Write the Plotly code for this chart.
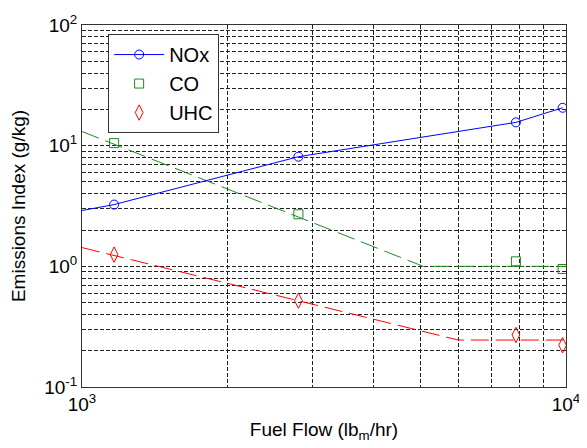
import plotly.graph_objects as go

# Data points (fuel flow lbm/hr, emissions index g/kg)
flow = [1165, 2800, 7880, 9840]
nox = [3.25, 8.1, 15.6, 20.6]
co = [10.5, 2.7, 1.1, 0.95]
uhc = [1.25, 0.52, 0.27, 0.222]

# Fitted curves
nox_ext_x = [1000, 1165]
nox_ext_y = [2.9, 3.25]
co_fit_x = [1000, 5070, 10000]
co_fit_y = [13.1, 1.0, 1.0]
uhc_fit_x = [1000, 5990, 10000]
uhc_fit_y = [1.43, 0.245, 0.245]

x_major = [1000, 10000]
x_major_text = ["10<sup>3</sup>", "10<sup>4</sup>"]
y_major = [0.1, 1, 10, 100]
y_major_text = ["10<sup>-1</sup>", "10<sup>0</sup>", "10<sup>1</sup>", "10<sup>2</sup>"]

x_minor = [k * 1000 for k in range(2, 10)]
y_minor = [k * 10.0 ** d for d in (-1, 0, 1) for k in range(2, 10)]

BLUE = "#0000FF"
GREEN = "#1E8A1E"
RED = "#FF0000"
FONT = "Liberation Sans, Arial, sans-serif"

fig = go.Figure()
fig.add_trace(go.Scatter(x=nox_ext_x, y=nox_ext_y, mode="lines",
                         line=dict(color=BLUE, width=1), showlegend=False))
fig.add_trace(go.Scatter(x=co_fit_x, y=co_fit_y, mode="lines",
                         line=dict(color=GREEN, width=1, dash="18px,7px"), showlegend=False))
fig.add_trace(go.Scatter(x=uhc_fit_x, y=uhc_fit_y, mode="lines",
                         line=dict(color=RED, width=1, dash="18px,7px"), showlegend=False))
fig.add_trace(go.Scatter(x=flow, y=nox, mode="lines+markers", name="NOx",
                         line=dict(color=BLUE, width=1),
                         marker=dict(symbol="circle-open", size=9, color=BLUE, line=dict(width=1))))
fig.add_trace(go.Scatter(x=flow, y=co, mode="markers", name="CO",
                         marker=dict(symbol="square-open", size=9, color=GREEN, line=dict(width=1))))
fig.add_trace(go.Scatter(x=flow, y=uhc, mode="markers", name="UHC",
                         marker=dict(symbol="diamond-tall-open", size=11, color=RED, line=dict(width=1))))

grid = dict(showgrid=True, gridcolor="#222", gridwidth=1, griddash="4px,2px")

fig.update_xaxes(type="log", range=[3, 4], tickvals=x_major, ticktext=x_major_text,
                 ticks="", showline=True, mirror=True, linecolor="#333", linewidth=1,
                 zeroline=False, minor=dict(tickvals=x_minor, ticks="", **grid), **grid,
                 tickfont=dict(family=FONT, size=19, color="black"),
                 title=dict(text="Fuel Flow (lb<sub>m</sub>/hr)", standoff=8,
                            font=dict(family=FONT, size=19, color="black")))
fig.update_yaxes(type="log", range=[-1, 2], tickvals=y_major, ticktext=y_major_text,
                 ticks="", showline=True, mirror=True, linecolor="#333", linewidth=1,
                 zeroline=False, minor=dict(tickvals=y_minor, ticks="", **grid), **grid,
                 tickfont=dict(family=FONT, size=19, color="black"),
                 title=dict(text="Emissions Index (g/kg)", standoff=15,
                            font=dict(family=FONT, size=19, color="black")))

# page body adds an 8px offset; size the figure so the plot lands where the reference has it
fig.update_layout(
    width=579, height=440,
    margin=dict(l=74, r=21, t=17, b=61, autoexpand=False),
    paper_bgcolor="white", plot_bgcolor="white",
    font=dict(family=FONT, color="black"),
    legend=dict(x=0.054, y=0.975, xanchor="left", yanchor="top",
                bgcolor="white", bordercolor="#333", borderwidth=1,
                font=dict(family=FONT, size=20, color="black"),
                itemwidth=50, tracegroupgap=0),
)

fig.write_html("out.html")
